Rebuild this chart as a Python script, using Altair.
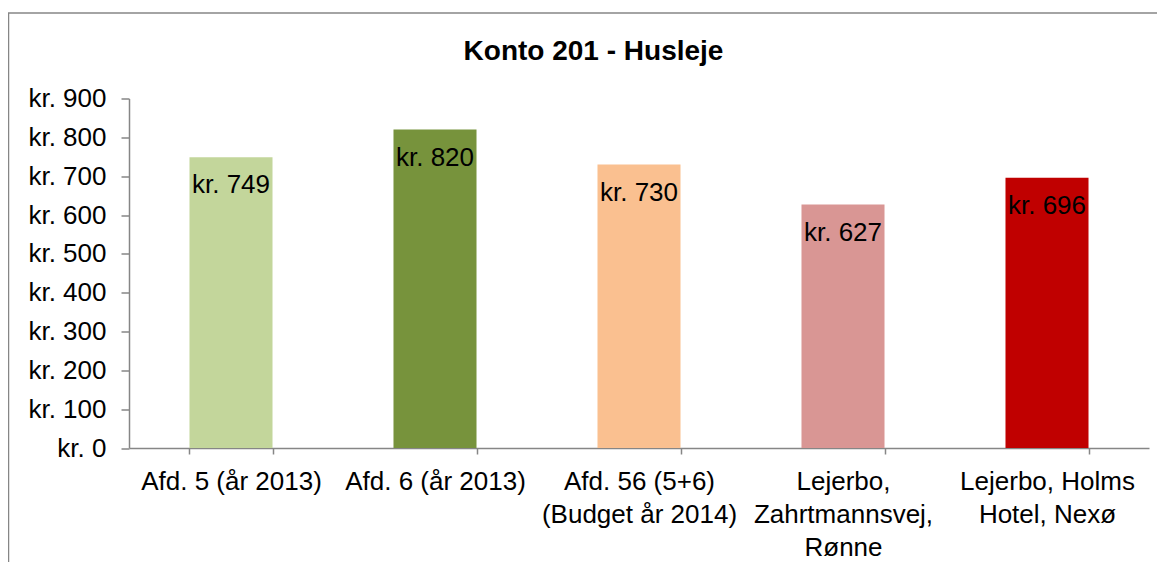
import altair as alt
import pandas as pd

categories = [
    "Afd. 5 (år 2013)",
    "Afd. 6 (år 2013)",
    "Afd. 56 (5+6)|(Budget år 2014)",
    "Lejerbo,|Zahrtmannsvej,|Rønne",
    "Lejerbo, Holms|Hotel, Nexø",
]
values = [749, 820, 730, 627, 696]
colors = ["#C3D69B", "#77933C", "#FAC090", "#D99694", "#C00000"]
y_ticks = [0, 100, 200, 300, 400, 500, 600, 700, 800, 900]

df = pd.DataFrame({"cat": categories, "val": values})
df["label"] = ["kr. " + str(v) for v in values]

FONT = "Liberation Sans"
GREY = "#868686"
FS = 26

x_enc = alt.X(
    "cat:N",
    sort=categories,
    scale=alt.Scale(paddingInner=0.593, paddingOuter=0.2965),
    axis=alt.Axis(
        title=None,
        labelAngle=0,
        labelExpr="split(datum.label, '|')",
        labelFontSize=FS,
        labelLineHeight=33,
        labelPadding=14,
        labelLimit=400,
        labelOverlap=False,
        labelColor="#000000",
        labelFont=FONT,
        tickBand="extent",
        tickSize=6,
        tickColor=GREY,
        domainColor=GREY,
        domainWidth=1.5,
        tickWidth=1.5,
    ),
)
y_enc = alt.Y(
    "val:Q",
    scale=alt.Scale(domain=[0, 900], nice=False),
    axis=alt.Axis(
        title=None,
        values=y_ticks,
        labelExpr="'kr. ' + datum.value",
        labelFontSize=FS,
        labelFont=FONT,
        labelColor="#000000",
        labelOverlap=False,
        labelPadding=15,
        tickSize=8,
        tickColor=GREY,
        domainColor=GREY,
        domainWidth=1.5,
        tickWidth=1.5,
        grid=False,
    ),
)

base = alt.Chart(df)

bars = base.mark_bar().encode(
    x=x_enc,
    y=y_enc,
    color=alt.Color(
        "cat:N",
        scale=alt.Scale(domain=categories, range=colors),
        legend=None,
    ),
)

labels = base.mark_text(
    baseline="middle", dy=28, fontSize=FS, font=FONT, color="#000000"
).encode(
    x=x_enc,
    y=y_enc,
    text="label:N",
)

border = alt.Chart(pd.DataFrame({"a": [0]})).mark_rect(
    fillOpacity=0, stroke=GREY, strokeWidth=1.5
).encode(
    x=alt.value(-120.5),
    x2=alt.value(1100),
    y=alt.value(-85.5),
    y2=alt.value(700),
)

chart = (
    alt.layer(border, bars, labels)
    .properties(
        width=1020,
        height=349.5,
        autosize=alt.AutoSizeParams(type="none"),
        padding={"left": 121, "top": 90.5, "right": 8, "bottom": 114},
        title=alt.TitleParams(
            "Konto 201 - Husleje",
            font=FONT,
            fontSize=28,
            fontWeight="bold",
            anchor="middle",
            frame="group",
            baseline="alphabetic",
            offset=0,
            dx=-45.5,
            dy=76,
            color="#000000",
        ),
    )
    .configure(background="white")
    .configure_view(stroke="transparent", strokeWidth=0)
)

chart.save("out.html", embed_options={"renderer": "svg", "actions": False})
